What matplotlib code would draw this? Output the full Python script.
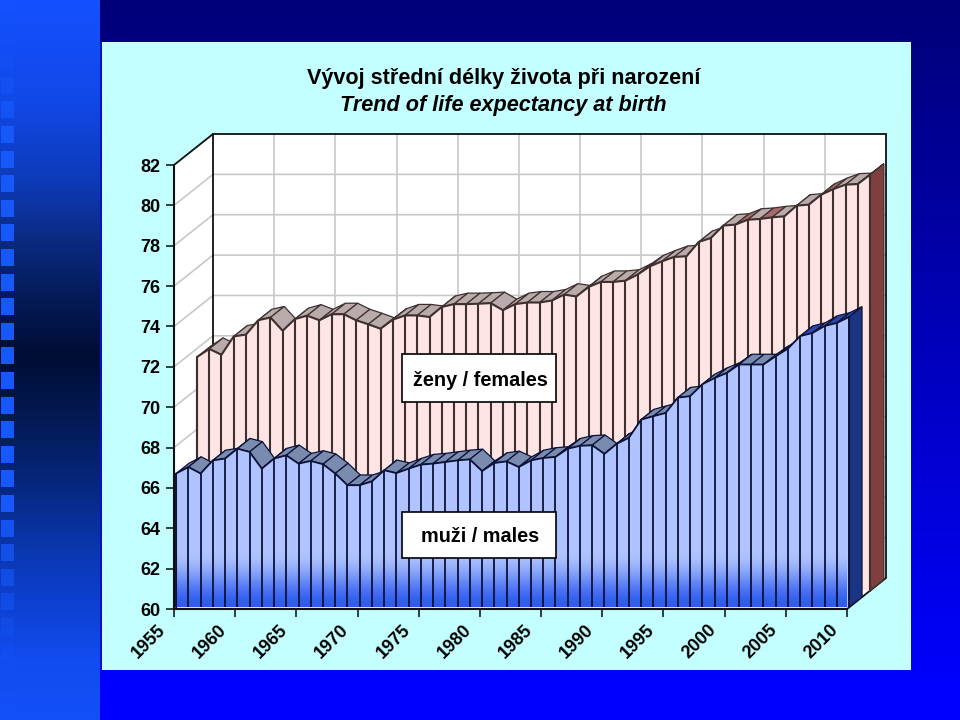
import numpy as np
import matplotlib
matplotlib.use("Agg")
import matplotlib.pyplot as plt
from matplotlib.patches import Polygon, Rectangle
from matplotlib.colors import to_rgb
from matplotlib.transforms import ScaledTranslation

plt.rcParams['font.family'] = ['Liberation Sans', 'DejaVu Sans']

years = list(range(1955, 2011))
males = [66.63, 66.95, 66.63, 67.28, 67.37, 67.86, 67.70, 66.87, 67.37, 67.53,
         67.12, 67.25, 67.09, 66.63, 66.05, 66.05, 66.24, 66.79, 66.65, 66.87,
         67.07, 67.12, 67.20, 67.28, 67.33, 66.75, 67.15, 67.23, 66.95, 67.28,
         67.40, 67.45, 67.86, 68.00, 68.03, 67.60, 68.10, 68.40, 69.30, 69.47,
         69.63, 70.39, 70.46, 71.05, 71.36, 71.61, 72.03, 72.03, 72.03, 72.44,
         72.82, 73.44, 73.59, 73.94, 74.09, 74.39]
females = [71.58, 71.98, 71.69, 72.60, 72.69, 73.40, 73.54, 72.88, 73.46, 73.63,
           73.40, 73.70, 73.70, 73.40, 73.20, 72.98, 73.43, 73.64, 73.64, 73.56,
           74.06, 74.20, 74.20, 74.22, 74.25, 73.90, 74.20, 74.28, 74.28, 74.38,
           74.67, 74.58, 75.05, 75.30, 75.30, 75.36, 75.66, 76.07, 76.32, 76.54,
           76.57, 77.28, 77.48, 78.09, 78.14, 78.38, 78.42, 78.50, 78.55, 79.08,
           79.13, 79.62, 79.90, 80.12, 80.15, 80.61]
year_ticks = list(range(1955, 2011, 5))
value_ticks = list(range(60, 83, 2))
title_cz = "Vývoj střední délky života při narození"
title_en = "Trend of life expectancy at birth"
label_f = "ženy / females"
label_m = "muži / males"
rose_f = {1999, 2001, 2006}
blue_m = {2006, 2008, 2009}

W, H = 960, 720
fig = plt.figure(figsize=(9.6, 7.2), dpi=100)

# ---------- slide background ----------
bg = fig.add_axes([0, 0, 1, 1], zorder=0)
bg.set_axis_off()
img = np.zeros((H, W, 3))
yy = np.arange(H)
stops_y = [0, 100, 180, 240, 300, 355, 420, 480, 540, 600, 660, 720]
stops_c = ['#1450ff', '#1148e8', '#0d3bb8', '#0b2a80', '#041a55', '#000d35',
           '#031a55', '#06267c', '#0a35a8', '#0d40d0', '#124cf0', '#1450f8']
cc = np.array([to_rgb(c) for c in stops_c])
for k in range(3):
    img[:, :100, k] = np.interp(yy, stops_y, cc[:, k])[:, None]
    c0, c1 = to_rgb('#000078')[k], to_rgb('#0000ff')[k]
    img[:, 100:, k] = np.interp(yy, [0, 690], [c0, c1])[:, None]
sq = np.array(to_rgb('#1658fa'))
for s in np.arange(249 - 24.6 * 10, 720, 24.6):
    a, b = int(round(s)), int(round(s + 17))
    if a >= 0:
        alpha = np.interp(a, [30, 70, 120, 500, 660], [0.15, 0.35, 1, 1, 0.1])
        img[a:b, 1:14, :] = img[a:b, 1:14, :] * (1 - alpha) + sq * alpha
img[42:670, 100:102, :] = to_rgb('#0a10c8')
img[42:670, 102:911, :] = to_rgb('#c4ffff')
bg.imshow(img, extent=[0, W, H, 0], aspect='auto', interpolation='nearest')

# ---------- chart axes ----------
L, R, T, B = 174, 847, 165, 609
ax = fig.add_axes([L / W, 1 - B / H, (R - L) / W, (B - T) / H], zorder=2)
ax.patch.set_visible(False)
X0, X1, V0, V1 = 1955, 2010, 60, 82
px_x = (R - L) / (X1 - X0)
px_y = (B - T) / (V1 - V0)
DX, DY = 39 / px_x, 31 / px_y


def P(x, v, d):
    return (x + d * DX, v + d * DY)


def poly(points, fc, ec='none', lw=0, z=1):
    p = Polygon(points, closed=True, facecolor=fc, edgecolor=ec, linewidth=lw,
                zorder=z, clip_on=False, joinstyle='miter')
    ax.add_patch(p)
    return p


WALL = dict(color='#c8c8c8', lw=1.2, clip_on=False, zorder=1.5)
# walls and floor
poly([P(X0, V0, 0), P(X0, V0, 1), P(X0, V1, 1), P(X0, V1, 0)], 'white', z=1)
poly([P(X0, V0, 1), P(X1, V0, 1), P(X1, V1, 1), P(X0, V1, 1)], 'white', z=1)
poly([P(X0, V0, 0), P(X1, V0, 0), P(X1, V0, 1), P(X0, V0, 1)], 'white', z=1)
for v in value_ticks[1:-1]:
    ax.plot(*zip(P(X0, v, 0), P(X0, v, 1), P(X1, v, 1)), **WALL)
for y in year_ticks[1:-1]:
    ax.plot(*zip(P(y, V0, 1), P(y, V1, 1)), **WALL)
FR = dict(color='#101010', lw=1.3, clip_on=False, zorder=1.6, solid_joinstyle='miter')
ax.plot(*zip(P(X0, V1, 0), P(X0, V1, 1), P(X1, V1, 1), P(X1, V0, 1), P(X1, V0, 0)), **FR)
ax.plot(*zip(P(X0, V0, 1), P(X0, V1, 1)), **FR)


def gradient(points, d, light, strong, z):
    n = 128
    u = np.linspace(0, 1, n)
    t = (u * u * (3 - 2 * u))[:, None, None]
    arr = np.array(to_rgb(strong))[None, None, :] * t + np.array(to_rgb(light))[None, None, :] * (1 - t)
    base = V0 + d * DY
    x0 = min(p[0] for p in points)
    x1 = max(p[0] for p in points)
    im = ax.imshow(arr, extent=[x0, x1, base, base + 2.7], aspect='auto',
                   interpolation='bilinear', zorder=z, clip_on=True)
    clip = Polygon(points, closed=True, transform=ax.transData)
    im.set_clip_path(clip)


def area(vals, d0, d1, face, strong, top, top2, hi, side, line, lw, z):
    n = len(vals)
    for i in range(n - 1):
        c = top2 if years[i] in hi else top
        poly([P(years[i], vals[i], d0), P(years[i + 1], vals[i + 1], d0),
              P(years[i + 1], vals[i + 1], d1), P(years[i], vals[i], d1)],
             c, ec=line, lw=0.9, z=z + 0.001 * i)
    # right side face
    poly([P(X1, vals[-1], d0), P(X1, vals[-1], d1), P(X1, V0, d1), P(X1, V0, d0)],
         side, ec=line, lw=0.9, z=z + 0.1)
    # front face
    pts = [P(X0, V0, d0)] + [P(y, v, d0) for y, v in zip(years, vals)] + [P(X1, V0, d0)]
    poly(pts, face, z=z + 0.2)
    gradient(pts, d0, face, strong, z + 0.3)
    for y, v in zip(years, vals):
        ax.plot(*zip(P(y, V0, d0), P(y, v, d0)), color=line, lw=lw, clip_on=False,
                zorder=z + 0.4, solid_capstyle='butt')
    ax.plot(*zip(*pts), color=line, lw=lw, clip_on=False, zorder=z + 0.5,
            solid_joinstyle='miter')


area(females, 0.59, 0.945, '#ffe4e4', '#ff7f7f', '#b9abab', '#a86a6a', rose_f,
     '#7f3f3f', '#3f3030', 1.5, 2)
area(males, 0.055, 0.385, '#aec3ff', '#2f5cf0', '#7a8bb0', '#2c48ac', blue_m,
     '#1b3585', '#0c1238', 1.3, 4)

# axes
ax.set_xlim(X0, X1)
ax.set_ylim(V0, V1)
ax.set_yticks(value_ticks)
ax.set_xticks(year_ticks)
for s in ('top', 'right'):
    ax.spines[s].set_visible(False)
for s in ('left', 'bottom'):
    ax.spines[s].set_linewidth(1.5)
    ax.spines[s].set_color('#101010')
    ax.spines[s].set_zorder(6)
ax.tick_params(axis='y', length=6, width=1.3, color='#203030', pad=4, labelsize=13)
ax.tick_params(axis='x', length=6, width=1.3, color='#203030', pad=3, labelsize=13)
for t in ax.get_yticklabels():
    t.set_fontweight('bold')
ax.set_xticklabels([str(y) for y in year_ticks], rotation=45, ha='right',
                   rotation_mode='anchor', fontweight='bold')
shift = ScaledTranslation(-17 / 100, 0, fig.dpi_scale_trans)
for t in ax.get_xticklabels():
    t.set_transform(t.get_transform() + shift)

# label boxes
for txt, y0, y1, yc in ((label_f, 354, 402, 381), (label_m, 512, 558, 537)):
    fig.add_artist(Rectangle((402 / W, 1 - y1 / H), 154 / W, (y1 - y0) / H,
                             transform=fig.transFigure, facecolor='white',
                             edgecolor='black', linewidth=1.2, zorder=5))
    fig.text(480 / W, 1 - yc / H, txt, ha='center', va='center', fontsize=14.3,
             fontweight='bold', zorder=6)

fig.text(503.5 / W, 1 - 78.5 / H, title_cz, ha='center', va='center', fontsize=15.6,
         fontweight='bold', zorder=6)
fig.text(503.5 / W, 1 - 105.5 / H, title_en, ha='center', va='center', fontsize=15.6,
         fontweight='bold', fontstyle='italic', zorder=6)

fig.savefig('out.png', dpi=100)
